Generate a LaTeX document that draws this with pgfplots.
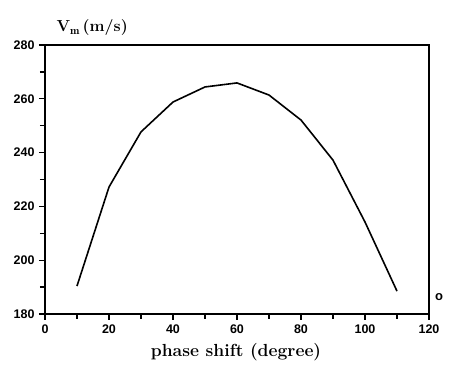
\documentclass[border=0pt]{standalone}
\usepackage{pgfplots}
\pgfplotsset{compat=1.18}
\usepackage{fontspec}
\newfontfamily\tickfont{Liberation Sans}
\begin{document}
\begin{tikzpicture}
\useasboundingbox (0pt,0pt) rectangle (453pt,367pt);
\begin{axis}[
  at={(45pt,53pt)}, anchor=south west,
  scale only axis, width=384pt, height=269pt,
  xmin=0, xmax=120, ymin=180, ymax=280,
  xtick={0,20,...,120}, ytick={180,200,...,280},
  minor xtick={10,30,...,110}, minor ytick={190,210,...,270},
  axis x line*=bottom, axis y line*=left,
  axis line style={line width=1.8pt, -},
  tick align=outside,
  major tick length=6pt, minor tick length=5pt,
  every tick/.style={black, line width=1.3pt},
  tick label style={font=\tickfont\bfseries\fontsize{12.5}{13}\selectfont},
  /pgf/number format/assume math mode=true,
  xticklabel style={yshift=-1pt},
  yticklabel style={xshift=-1pt},
  clip=false,
]
\addplot[black, line width=1.6pt] coordinates {
(10,190.4) (20,227.2) (30,247.7) (40,258.8) (50,264.4) (60,265.9)
(70,261.4) (80,252.1) (90,237.2) (100,214.2) (110,188.5)};
\draw[line width=1.8pt] (rel axis cs:0,1) -- (rel axis cs:1,1) -- (rel axis cs:1,0);
\end{axis}
\node[font=\fontsize{16}{18}\selectfont\bfseries, anchor=base west] at (53pt,335pt) {V$_{\mathbf{m}}$\,(m/s)};
\node[font=\fontsize{17.5}{20}\selectfont\bfseries, anchor=base] at (236pt,10pt) {phase shift (degree)};
\node[font=\tickfont\bfseries\fontsize{13}{14}\selectfont] at (439pt,70pt) {o};
\end{tikzpicture}
\end{document}
